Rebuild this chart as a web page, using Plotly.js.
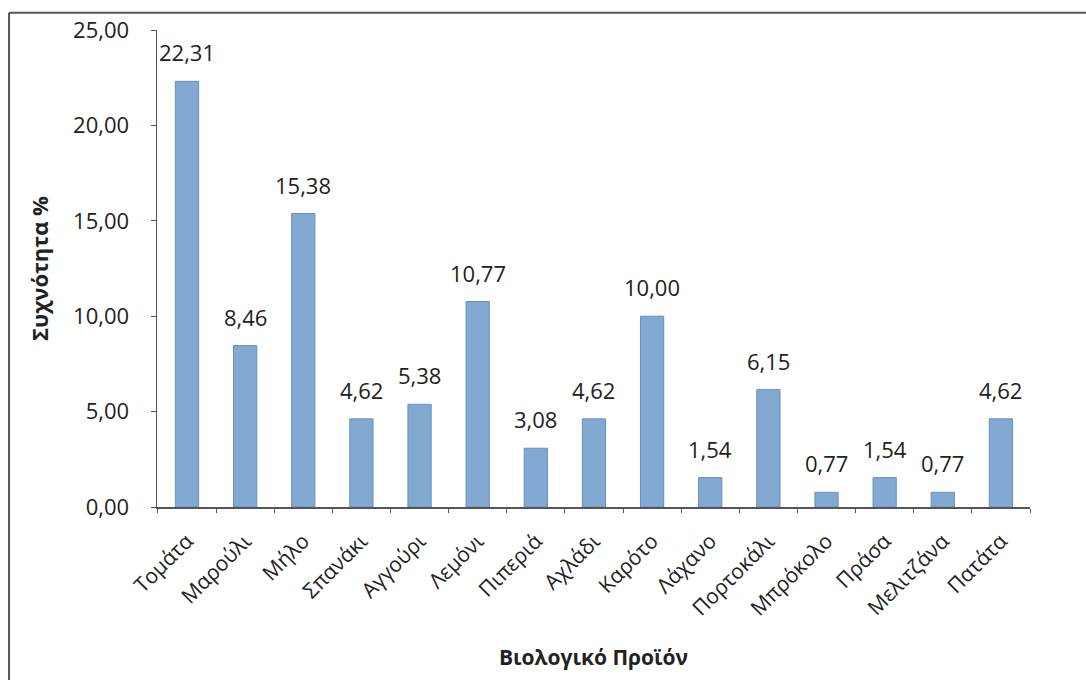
<!DOCTYPE html>
<html>
<head>
<meta charset="utf-8">
<script src="https://cdn.plot.ly/plotly-3.0.1.min.js"></script>
<style>
  html, body { margin: 0; padding: 0; background: #ffffff; }
  #chart { width: 1086px; height: 680px; }
</style>
</head>
<body>
<div id="chart"></div>
<script>
// Organic products and their frequency (%)
const products = ["Τομάτα", "Μαρούλι", "Μήλο", "Σπανάκι", "Αγγούρι", "Λεμόνι", "Πιπεριά",
                  "Αχλάδι", "Καρότο", "Λάχανο", "Πορτοκάλι", "Μπρόκολο", "Πράσα", "Μελιτζάνα", "Πατάτα"];
const frequency = [22.31, 8.46, 15.38, 4.62, 5.38, 10.77, 3.08, 4.62, 10.00, 1.54, 6.15, 0.77, 1.54, 0.77, 4.62];
const yTicks = [0, 5, 10, 15, 20, 25];

const font = "Open Sans, Liberation Sans, sans-serif";
const ink = "#222222";

const trace = {
  type: "bar",
  x: products,
  y: frequency,
  marker: { color: "#82a9d1", line: { color: "#6690bc", width: 1 } },
  hoverinfo: "x+y"
};

const fmt = v => v.toFixed(2).replace(".", ",");

// value labels above each bar
const labels = products.map((p, i) => ({
  x: p, y: frequency[i], xref: "x", yref: "y",
  text: fmt(frequency[i]), showarrow: false,
  yanchor: "bottom", yshift: 12,
  font: { family: font, size: 22, color: ink }
}));

const layout = {
  width: 1086, height: 680,
  margin: { l: 157, r: 56, t: 30, b: 173 },
  paper_bgcolor: "#ffffff", plot_bgcolor: "#ffffff",
  separators: ",.",
  showlegend: false,
  bargap: 0.6,
  font: { family: font, size: 22, color: ink },
  xaxis: {
    type: "category",
    tickangle: -45,
    tickson: "boundaries",
    ticks: "outside", ticklen: 4, tickcolor: "#555555",
    ticklabelstandoff: 12,
    showline: true, linecolor: "#555555", linewidth: 1.5,
    tickfont: { family: font, size: 21, color: ink },
    title: { text: "<b>Βιολογικό Προϊόν</b>", font: { family: font, size: 21, color: ink }, standoff: 30 }
  },
  yaxis: {
    range: [0, 25],
    tickvals: yTicks,
    ticktext: yTicks.map(fmt),
    ticks: "outside", ticklen: 5, tickcolor: "#555555",
    ticklabelstandoff: 17,
    showline: true, linecolor: "#555555", linewidth: 1.5,
    showgrid: false, zeroline: false,
    tickfont: { family: font, size: 22, color: ink },
    title: { text: "<b>Συχνότητα %</b>", font: { family: font, size: 22, color: ink }, standoff: 18 }
  },
  annotations: labels,
  shapes: [
    { type: "line", xref: "paper", yref: "paper", x0: -0.1695, x1: 1.07, y0: 1.036, y1: 1.036,
      line: { color: "#555555", width: 2 } },
    { type: "line", xref: "paper", yref: "paper", x0: -0.1695, x1: -0.1695, y0: 1.036, y1: -0.37,
      line: { color: "#555555", width: 2 } }
  ]
};

Plotly.newPlot("chart", [trace], layout, { displayModeBar: false, staticPlot: true });
</script>
</body>
</html>
